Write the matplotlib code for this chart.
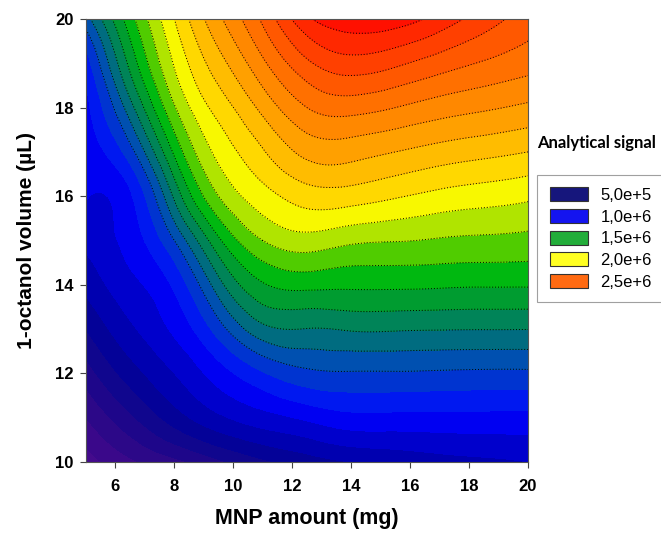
import matplotlib
matplotlib.use("Agg")
import matplotlib.pyplot as plt
import matplotlib.tri as mtri
from matplotlib.colors import ListedColormap, BoundaryNorm
from matplotlib.patches import Patch
import numpy as np

# grid: MNP amount (mg) x 1-octanol volume (uL)
mnp_amount = [5, 6.5, 8, 9.5, 11, 12.5, 14, 15.5, 17, 18.5, 20]
octanol_volume = [10, 11, 12, 13, 14, 15, 16, 17, 18, 19, 20]

# analytical signal in units of 1e6, one list per octanol volume (columns follow mnp_amount)
signal_v10 = [0.25, 0.38, 0.47, 0.58, 0.68, 0.75, 0.80, 0.83, 0.86, 0.88, 0.90]
signal_v11 = [0.40, 0.58, 0.75, 0.88, 0.96, 1.02, 1.07, 1.07, 1.07, 1.07, 1.07]
signal_v12 = [0.55, 0.75, 0.90, 1.05, 1.19, 1.275, 1.29, 1.29, 1.285, 1.28, 1.28]
signal_v13 = [0.70, 0.88, 1.02, 1.25, 1.47, 1.497, 1.51, 1.51, 1.505, 1.503, 1.502]
signal_v14 = [0.83, 0.97, 1.12, 1.46, 1.69, 1.73, 1.72, 1.72, 1.715, 1.71, 1.71]
signal_v15 = [0.93, 1.04, 1.30, 1.68, 1.90, 1.96, 1.92, 1.905, 1.89, 1.88, 1.87]
signal_v16 = [1.005, 1.085, 1.52, 1.90, 2.06, 2.15, 2.15, 2.11, 2.07, 2.045, 2.02]
signal_v17 = [1.04, 1.26, 1.72, 2.03, 2.19, 2.33, 2.34, 2.30, 2.26, 2.23, 2.20]
signal_v18 = [1.07, 1.46, 1.89, 2.14, 2.33, 2.50, 2.54, 2.50, 2.45, 2.415, 2.38]
signal_v19 = [1.15, 1.63, 2.01, 2.26, 2.48, 2.68, 2.76, 2.72, 2.65, 2.59, 2.54]
signal_v20 = [1.36, 1.76, 2.10, 2.38, 2.62, 2.88, 2.96, 2.95, 2.86, 2.75, 2.65]

legend_labels = ["5,0e+5", "1,0e+6", "1,5e+6", "2,0e+6", "2,5e+6"]
legend_colors = ["#16167c", "#1414f0", "#22ad3a", "#ffff22", "#ff6a12"]

band_colors = [
    "#560c8e", "#4c0a8c", "#440a8c", "#3a088a", "#2c0888",
    "#1e068a", "#10068e", "#040298", "#0000b0", "#0000cc",
    "#0000f2", "#0018f0", "#0034d0", "#0050b0", "#006c80",
    "#008458", "#009c30", "#00b810", "#50cc00", "#b0e400",
    "#f8f800", "#ffd800", "#ffbc00", "#ffa000", "#ff8800",
    "#ff7000", "#ff5800", "#ff4000", "#ff2800", "#ff1000",
]
levels = np.arange(0, 3.01, 0.1)

Z = np.array([signal_v10, signal_v11, signal_v12, signal_v13, signal_v14, signal_v15,
              signal_v16, signal_v17, signal_v18, signal_v19, signal_v20])
X, Y = np.meshgrid(mnp_amount, octanol_volume)

tri = mtri.Triangulation(X.ravel(), Y.ravel())
refiner = mtri.UniformTriRefiner(tri)
tri_fine, z_fine = refiner.refine_field(Z.ravel(), subdiv=3)

cmap = ListedColormap(band_colors)
norm = BoundaryNorm(levels, cmap.N)

fig = plt.figure(figsize=(6.61, 5.33), dpi=100)
ax = fig.add_axes([86 / 661, 1 - 462 / 533, 442 / 661, 443 / 533])

ax.tricontourf(tri_fine, z_fine, levels=levels, cmap=cmap, norm=norm, extend="both")
# dotted lines only show up on the lighter bands
ax.tricontour(tri_fine, z_fine, levels=levels[13:], colors="black",
              linestyles=[(0, (1, 2))], linewidths=0.7)

ax.set_xlim(5, 20)
ax.set_ylim(10, 20)
ax.set_xticks([6, 8, 10, 12, 14, 16, 18, 20])
ax.set_yticks([10, 12, 14, 16, 18, 20])
for lab in ax.get_xticklabels() + ax.get_yticklabels():
    lab.set_fontfamily("Liberation Sans")
    lab.set_fontweight("bold")
    lab.set_fontsize(12)
ax.tick_params(direction="out", length=4, width=0.8, color="#444444")
ax.tick_params(axis="x", pad=8)
ax.tick_params(axis="y", pad=5)
for sp in ax.spines.values():
    sp.set_linewidth(0.8)
    sp.set_color("#555555")

ax.set_xlabel("MNP amount (mg)", fontfamily="Liberation Sans", fontweight="bold", fontsize=15.5)
ax.set_ylabel("1-octanol volume (µL)", fontfamily="Liberation Sans", fontweight="bold", fontsize=15)
ax.xaxis.set_label_coords(0.5, -0.104)
ax.yaxis.set_label_coords(-0.112, 0.5)

fig.text(537 / 661, 1 - 143 / 533, "Analytical signal", fontfamily="Lato",
         fontweight="bold", fontsize=12, va="center", ha="left")

handles = [Patch(facecolor=c, edgecolor="#333333", linewidth=0.8) for c in legend_colors]
leg = fig.legend(handles, legend_labels, loc="upper left",
                 bbox_to_anchor=(537 / 661, 1 - 175 / 533),
                 prop={"family": "Liberation Sans", "size": 12},
                 frameon=True, fancybox=False, edgecolor="#888888",
                 handlelength=2.3, handleheight=0.9, handletextpad=0.75,
                 labelspacing=0.36, borderpad=0.75, borderaxespad=0)
leg.get_frame().set_linewidth(0.8)

fig.savefig("out.png", dpi=100)
